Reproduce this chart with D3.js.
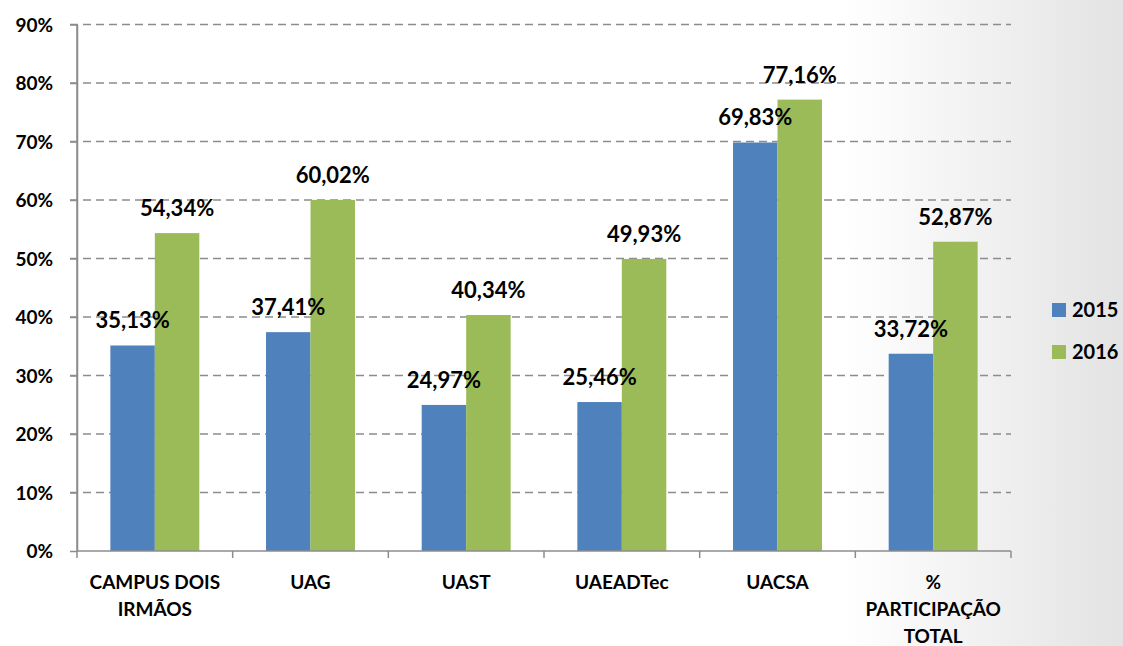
<!DOCTYPE html>
<html lang="pt">
<head>
    <meta charset="UTF-8">
    <title>Participação 2015 x 2016</title>
    <style>
        body { margin: 0; }
        text { font-family: Lato, "Open Sans", sans-serif; font-weight: bold; fill: #000; }
        .grid line { stroke: #8c8c8c; stroke-width: 1.5; stroke-dasharray: 8 5; }
        .axis path, .axis line { stroke: #8c8c8c; stroke-width: 1.5; fill: none; }
    </style>
</head>
<body>
    <div id='chart'></div>

    <script src='https://cdnjs.cloudflare.com/ajax/libs/d3/7.8.5/d3.min.js'></script>
    <script type='text/javascript'>
        const categories = [['CAMPUS DOIS', 'IRMÃOS'], ['UAG'], ['UAST'], ['UAEADTec'], ['UACSA'], ['%', 'PARTICIPAÇÃO', 'TOTAL']];
        const series = ['2015', '2016'];
        const values2015 = [35.13, 37.41, 24.97, 25.46, 69.83, 33.72];
        const values2016 = [54.34, 60.02, 40.34, 49.93, 77.16, 52.87];
        const yTicks = [0, 10, 20, 30, 40, 50, 60, 70, 80, 90];
        const colors = ['#4f81bd', '#9bbb59'];

        const width = 1123, height = 646;
        const plotLeft = 77, plotRight = 1011, plotTop = 24.5, plotBottom = 551;

        const svg = d3.select('#chart').append('svg')
            .attr('width', width).attr('height', height);

        // background fades to grey on the right
        const grad = svg.append('defs').append('linearGradient')
            .attr('id', 'bg').attr('x1', '0').attr('x2', '1').attr('y1', '0').attr('y2', '0');
        grad.append('stop').attr('offset', '0.75').attr('stop-color', '#ffffff');
        grad.append('stop').attr('offset', '1').attr('stop-color', '#e3e3e3');
        svg.append('rect').attr('width', width).attr('height', height).attr('fill', 'url(#bg)');

        const keys = categories.map((c, i) => i);
        const x = d3.scaleBand().domain(keys).range([plotLeft, plotRight]);
        const x1 = d3.scaleBand().domain(series).range([0, x.bandwidth()]).paddingOuter(0.75);
        const y = d3.scaleLinear().domain([0, 90]).range([plotBottom, plotTop]);

        // gridlines
        svg.append('g').attr('class', 'grid')
            .selectAll('line').data(yTicks.slice(1)).enter().append('line')
              .attr('x1', plotLeft - 7).attr('x2', plotRight)
              .attr('y1', d => y(d)).attr('y2', d => y(d));

        // y axis
        const yAxis = svg.append('g').attr('class', 'axis')
            .attr('transform', `translate(${plotLeft}, 0)`)
            .call(d3.axisLeft(y).tickValues(yTicks).tickFormat(d => d + '%').tickSize(7).tickSizeOuter(0));
        yAxis.selectAll('text').style('font-size', '19px').attr('x', -24).attr('dy', '0.35em');

        // bars
        const data = [values2015, values2016];
        const points = series.flatMap((s, si) => data[si].map((v, i) => ({ s, si, i, v })));
        svg.append('g').selectAll('rect').data(points).enter().append('rect')
            .attr('fill', d => colors[d.si])
            .attr('x', d => x(d.i) + x1(d.s))
            .attr('width', x1.bandwidth())
            .attr('y', d => y(d.v))
            .attr('height', d => plotBottom - y(d.v));

        // x axis with ticks between categories
        const xAxis = svg.append('g').attr('class', 'axis');
        xAxis.append('line').attr('x1', plotLeft).attr('x2', plotRight).attr('y1', plotBottom).attr('y2', plotBottom);
        xAxis.selectAll('line.tick').data(d3.range(categories.length + 1)).enter().append('line')
            .attr('class', 'tick')
            .attr('x1', i => plotLeft + i * x.step()).attr('x2', i => plotLeft + i * x.step())
            .attr('y1', plotBottom).attr('y2', plotBottom + 7);
        svg.append('line').attr('x1', plotLeft).attr('x2', plotLeft).attr('y1', plotTop).attr('y2', plotBottom)
            .attr('stroke', '#8c8c8c').attr('stroke-width', 1.5);

        // category labels
        const catLabels = svg.selectAll('text.cat').data(categories).enter().append('text')
            .attr('class', 'cat')
            .attr('text-anchor', 'middle')
            .style('font-size', '19px');
        catLabels.selectAll('tspan').data((d, i) => d.map(t => ({ t, i }))).enter().append('tspan')
            .attr('x', d => x(d.i) + x.bandwidth() / 2)
            .attr('y', (d, j) => 589 + j * 27)
            .text(d => d.t);

        // value labels, drawn above all bars
        svg.append('g').selectAll('text').data(points).enter().append('text')
            .attr('x', d => x(d.i) + x1(d.s) + x1.bandwidth() / 2)
            .attr('y', d => y(d.v) - 17)
            .attr('text-anchor', 'middle')
            .style('font-size', '22px')
            .text(d => d.v.toFixed(2).replace('.', ',') + '%');

        // legend
        const legend = svg.selectAll('g.legend').data(series).enter().append('g')
            .attr('class', 'legend')
            .attr('transform', (d, i) => `translate(1052, ${303 + i * 42})`);
        legend.append('rect').attr('width', 14).attr('height', 14).attr('fill', (d, i) => colors[i]);
        legend.append('text').attr('x', 20).attr('y', 7).attr('dy', '0.35em')
            .style('font-size', '20px').text(d => d);
    </script>
</body>
</html>
